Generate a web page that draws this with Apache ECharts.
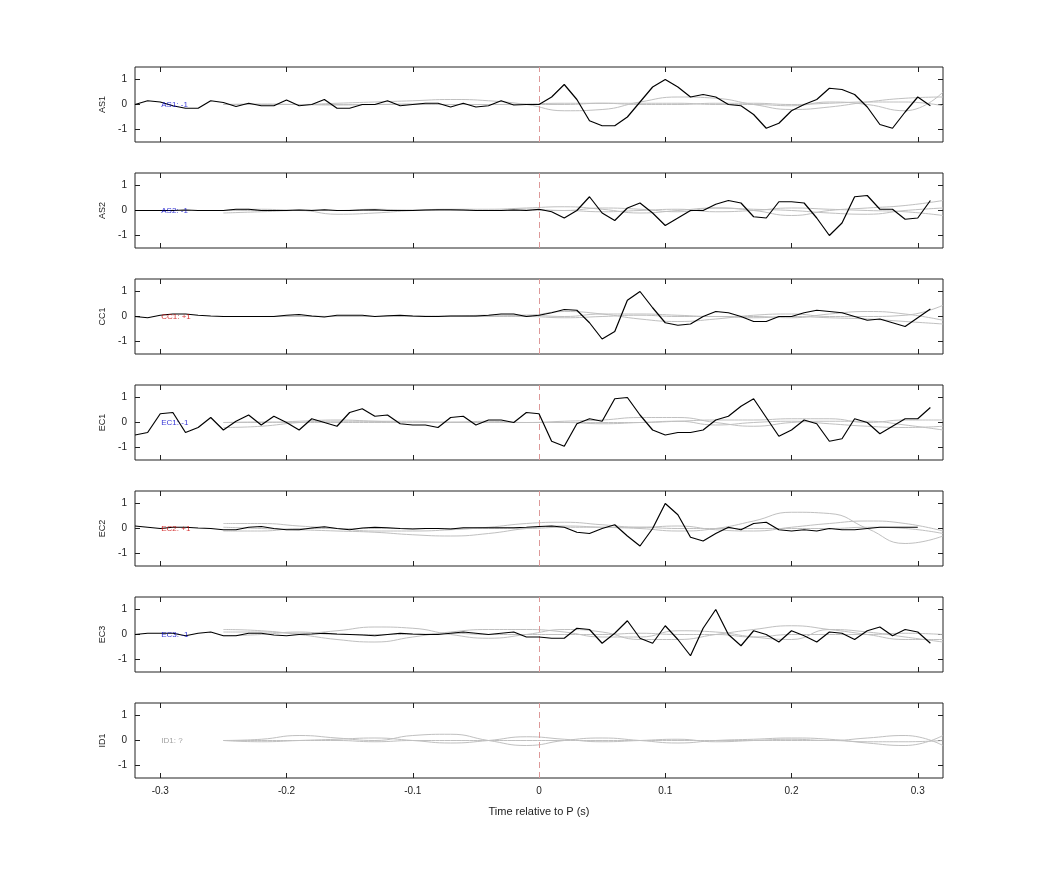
<!DOCTYPE html>
<html><head><meta charset="utf-8">
<script src="https://cdn.jsdelivr.net/npm/echarts@6/dist/echarts.min.js"></script>
<style>html,body{margin:0;padding:0;background:#fff}#c{width:1042px;height:875px}</style>
</head><body><div id="c"></div>
<script>
const stations = ["AS1","AS2","CC1","EC1","EC2","EC3","ID1"];
const polarityLabels = ["AS1: -1","AS2: -1","CC1: +1","EC1: -1","EC2: +1","EC3: -1","ID1: ?"];
const labelColors = ["#0000cc","#0000cc","#cc0000","#0000cc","#cc0000","#0000cc","#888888"];
const xTicks = [-0.3,-0.2,-0.1,0,0.1,0.2,0.3];
// black trace time start -0.32, step 0.01
const blackStart = -0.32, blackStep = 0.01;
const AS1 = [0,0.15,0.1,-0.05,-0.15,-0.15,0.15,0.08,-0.08,0.05,-0.05,-0.05,0.18,-0.05,0,0.2,-0.15,-0.15,0,0,0.15,-0.05,0,0.05,0.05,-0.1,0.05,-0.1,-0.05,0.15,-0.02,0,
  0,0.3,0.8,0.2,-0.65,-0.85,-0.85,-0.5,0.1,0.7,1.0,0.7,0.3,0.4,0.3,0,-0.05,-0.4,-0.95,-0.75,-0.25,0,0.2,0.65,0.6,0.4,-0.1,-0.8,-0.95,-0.3,0.3,-0.05];
const AS2 = [0,0,0,0,0.02,0,0,0,0.05,0.05,0,0,0,0.02,0,0.03,0,0,0.02,0.03,0,0,0,0.02,0.03,0.03,0.02,0,0,0,0.02,0,
  0.05,-0.05,-0.3,0,0.55,-0.1,-0.4,0.1,0.3,-0.1,-0.6,-0.3,0,0,0.25,0.4,0.3,-0.25,-0.3,0.35,0.35,0.3,-0.3,-1.0,-0.5,0.55,0.6,0.05,0.05,-0.35,-0.3,0.4];
const CC1 = [0,-0.05,0.05,0.1,0.1,0.05,0.02,0,0,0,0,0,0.05,0.08,0.02,-0.02,0.05,0.05,0.05,0,0.03,0.05,0.02,0,0,0.02,0.02,0.02,0.05,0.1,0.1,0,
  0.05,0.15,0.28,0.25,-0.25,-0.9,-0.6,0.65,1.0,0.35,-0.25,-0.35,-0.3,0,0.2,0.15,0,-0.2,-0.2,0,0,0.15,0.25,0.2,0.15,0,-0.15,-0.1,-0.25,-0.4,-0.05,0.3];
const EC1 = [-0.5,-0.4,0.35,0.4,-0.4,-0.2,0.2,-0.3,0.05,0.3,-0.1,0.25,0,-0.3,0.15,0,-0.15,0.4,0.55,0.25,0.3,-0.05,-0.1,-0.1,-0.2,0.2,0.25,-0.1,0.1,0.1,0,0.4,
  0.35,-0.75,-0.95,-0.05,0.15,0.05,0.95,1.0,0.3,-0.3,-0.5,-0.4,-0.4,-0.3,0.1,0.25,0.65,0.95,0.2,-0.55,-0.3,0.1,-0.05,-0.75,-0.65,0.15,0,-0.45,-0.15,0.15,0.15,0.6];
const EC2 = [0.1,0.05,0,0.05,0.05,0.02,0,-0.05,-0.05,0.05,0.08,0,-0.05,-0.05,0.02,0.07,0,-0.05,0.02,0.05,0.03,0,-0.02,0,0,-0.02,0.03,0.03,0.03,0.03,0.03,0.05,
  0.08,0.1,0.05,-0.15,-0.2,0,0.15,-0.3,-0.7,0,1.0,0.55,-0.35,-0.5,-0.2,0.05,-0.05,0.2,0.25,-0.05,-0.1,-0.05,-0.1,0,-0.05,-0.05,0,0.05,0.05,0.05,0.05];
const EC3 = [0,0.05,0.05,0.05,-0.05,0.05,0.1,-0.05,-0.05,0.05,0.05,-0.02,-0.05,0,0.02,0.05,0.02,0,-0.02,-0.05,0,0.05,0.02,0,0,0.05,0.1,0.05,0,0.05,0.1,-0.1,
  -0.1,-0.15,-0.15,0.25,0.2,-0.35,0.05,0.55,-0.15,-0.35,0.35,-0.2,-0.85,0.25,1.0,0,-0.45,0.15,0,-0.3,0.15,-0.05,-0.3,0.1,0.05,-0.2,0.15,0.3,-0.05,0.2,0.1,-0.35];
const ID1 = [];
// gray traces time start -0.25, step 0.03
const grayStart = -0.25, grayStep = 0.03;
const AS1_g = [[0,0,0,0.05,0.1,0.15,0.2,0.15,0,-0.25,-0.2,0.1,0.3,0.25,0,-0.2,-0.1,0.1,0.25,0.3],
  [0,0,0,0,0,0,0,0,0,0,0.05,0.05,0.05,0,0,-0.05,0.1,0,-0.25,0.5],
  [0,0.02,0,-0.02,0,0.02,0,0,0.02,0.05,0.05,0,0,0.05,0.05,0,0.05,0.1,0.1,-0.05]];
const AS2_g = [[-0.1,-0.05,0,-0.15,-0.1,0,0.05,0.05,0.1,0.15,0.05,-0.1,0,0.1,0,-0.2,0,0.1,0.2,0.4],
  [0,0.05,0,0,0.05,0,0,0,0.05,0,0.1,0.05,-0.05,0.1,0.05,0,-0.1,-0.15,0,0.1],
  [0,0,0.02,0,0,0.02,0,0,0,0,-0.05,0,0.05,-0.05,0,0.1,0.05,0,-0.05,-0.2]];
const CC1_g = [[0,0,0,0,0,0.02,0.02,0.05,0.05,0.2,0.1,-0.1,-0.2,-0.1,0.05,0.1,0,0,0.05,0.45],
  [0,0,0.02,0,0,0,0,0,0.05,0,0.1,0.1,0.05,0,0,-0.05,0.1,0.2,0.1,-0.15],
  [0,0,0,0,0,0,0,0,0,-0.05,0,0.05,0,0,-0.05,0,-0.05,-0.1,-0.2,-0.3]];
const EC1_g = [[-0.2,-0.15,0,0.05,0.05,0.05,0,0,0,0.05,0.1,0.2,0.2,0,-0.15,0,0.05,0.05,-0.1,-0.3],
  [0,0,0.05,0.1,0.05,0,0,0.05,0,0,0,0,0.05,0.1,0.1,0.15,0.15,0,0.1,0.1],
  [0,0.02,0,0,0,0,0.02,0,0,0,-0.05,0,0.05,-0.1,0,0.05,-0.05,-0.15,-0.2,-0.15]];
const EC2_g = [[0.05,0,-0.05,-0.1,-0.15,-0.25,-0.3,-0.2,0,0.1,0.05,0,-0.1,0,0.3,0.65,0.6,0,-0.6,-0.3],
  [0.2,0.2,0.1,0,-0.1,-0.1,-0.05,0.05,0.2,0.25,0.15,0.05,0.1,-0.05,-0.1,0.05,0.2,0.3,0.2,-0.1],
  [-0.1,-0.1,0,0,0,0,0,0,0,0.05,0.05,0.05,0,0,0,0,0,0.05,0,-0.2]];
const EC3_g = [[0.2,0.15,0,-0.2,-0.3,-0.1,0.1,0.2,0.2,0.1,-0.1,-0.1,0.15,0.1,-0.1,-0.2,0.2,0.1,-0.1,-0.3],
  [0.1,0.1,0.05,0.15,0.3,0.25,0,-0.15,0,0.2,0.1,-0.2,-0.2,0,0.2,0.35,0.2,0,-0.2,-0.2],
  [-0.05,0,0.1,0,0,0,0.05,0,0,0,0,0.05,0,0,-0.1,0,0,0,0.05,0]];
const ID1_g = [[0,0.05,0.2,0.1,0,0.2,0.25,0,-0.2,0,0.1,0,-0.1,0,0.05,0.1,0.05,-0.1,-0.2,0.2],
  [0,-0.05,0,0.05,0.1,0,-0.1,0,0.15,0.05,-0.05,0,0.05,-0.05,0,0.05,0,0.1,0.2,-0.2],
  [0,0,0,0,-0.05,0,0,0,0,0,0,0,0,0,0,0,0,-0.05,-0.05,0]];
const blacks = [AS1,AS2,CC1,EC1,EC2,EC3,ID1];
const grays = [AS1_g,AS2_g,CC1_g,EC1_g,EC2_g,EC3_g,ID1_g];

const chart = echarts.init(document.getElementById('c'));
const grid=[],xAxis=[],yAxis=[],series=[];
const F='Liberation Sans, Arial, sans-serif';
const tick={show:true,inside:true,length:5,lineStyle:{color:'#222'}};
stations.forEach((s,i)=>{
  const top=67+i*106;
  grid.push({left:135,width:808,top:top,height:75,show:true,borderColor:'#222',borderWidth:1});
  const last=i===stations.length-1;
  const xb={gridIndex:i,type:'value',position:'bottom',min:-0.32,max:0.32,
    axisLine:{show:false,onZero:false},splitLine:{show:false},
    axisTick:Object.assign({customValues:xTicks},tick),
    axisLabel:{show:last,customValues:xTicks,color:'#222',fontSize:10,fontFamily:F,formatter:v=>(Math.round(v*10)/10).toString(),margin:8}};
  if(last){xb.name='Time relative to P (s)';xb.nameLocation='middle';xb.nameGap=28;xb.nameTextStyle={color:'#222',fontSize:11,fontFamily:F};}
  xAxis.push(xb);
  xAxis.push({gridIndex:i,type:'value',position:'top',min:-0.32,max:0.32,axisLine:{show:false,onZero:false},splitLine:{show:false},
    axisTick:Object.assign({customValues:xTicks},tick),axisLabel:{show:false}});
  yAxis.push({gridIndex:i,type:'value',position:'left',min:-1.5,max:1.5,axisLine:{show:false,onZero:false},splitLine:{show:false},
    axisTick:Object.assign({customValues:[-1,0,1]},tick),
    axisLabel:{customValues:[-1,0,1],color:'#222',fontSize:10,fontFamily:F,margin:8},
    name:s,nameLocation:'middle',nameGap:26,nameRotate:90,nameTextStyle:{color:'#222',fontSize:9,fontFamily:F}});
  yAxis.push({gridIndex:i,type:'value',position:'right',min:-1.5,max:1.5,axisLine:{show:false,onZero:false},splitLine:{show:false},
    axisTick:Object.assign({customValues:[-1,0,1]},tick),axisLabel:{show:false}});
  const xi=i*2, yi=i*2;
  grays[i].forEach(g=>series.push({type:'line',xAxisIndex:xi,yAxisIndex:yi,smooth:0.5,symbol:'none',silent:true,
    lineStyle:{color:'#c0c0c0',width:1},data:g.map((v,k)=>[grayStart+k*grayStep,v])}));
  series.push({type:'line',xAxisIndex:xi,yAxisIndex:yi,symbol:'none',z:5,
    lineStyle:{color:'#000',width:1.2},data:blacks[i].map((v,k)=>[blackStart+k*blackStep,v]),
    markLine:{silent:true,symbol:'none',label:{show:false},lineStyle:{color:'#d99',type:[6,4],width:1},data:[{xAxis:0}]}});
  series.push({type:'scatter',xAxisIndex:xi,yAxisIndex:yi,symbolSize:0,silent:true,z:6,
    data:[[-0.30,0]],label:{show:true,position:'right',offset:[-4,0],formatter:polarityLabels[i],color:labelColors[i],fontSize:8,fontFamily:F}});
});
chart.setOption({animation:false,backgroundColor:'#fff',grid,xAxis,yAxis,series});
</script></body></html>
